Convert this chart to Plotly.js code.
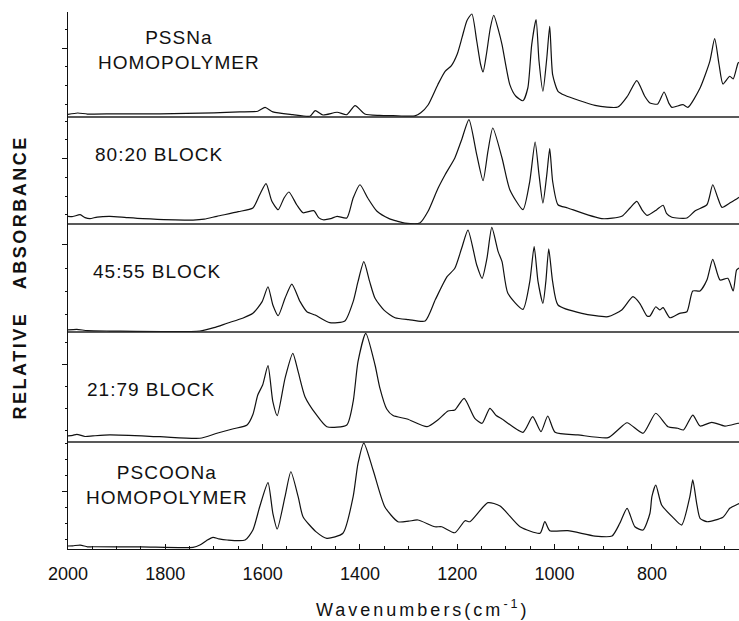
<!DOCTYPE html>
<html>
<head>
<meta charset="utf-8">
<script src="https://cdn.plot.ly/plotly-3.0.1.min.js"></script>
<style>
html,body{margin:0;padding:0;background:#fff;}
#chart{width:739px;height:621px;}
</style>
</head>
<body>
<div id="chart"></div>
<script>
// ---- Data (wavenumbers in cm-1, relative absorbance per panel) ----
const pssnaWn = [
 2000,1980,1960,1900,1811,1700,1647,1610,1595,1579,
 1538,1503,1492,1476,1447,1427,1410,1390,1360,1332,
 1287,1275,1260,1240,1225,1212,1200,1190,1180,1170,
 1160,1152,1147,1140,1132,1125,1115,1108,1092,1080,
 1065,1055,1047,1038,1032,1024,1016,1010,1004,993,
 979,917,870,850,831,815,804,788,775,765,
 759,736,726,701,681,671,662,654,640,633,
 623,621];
const pssnaAbs = [
 .024,.038,.028,.030,.029,.040,.048,.055,.092,.048,
 .022,.007,.060,.019,.045,.022,.108,.029,.015,.012,
 .010,.040,.114,.308,.435,.490,.600,.760,.920,.981,
 .724,.500,.429,.600,.850,.969,.820,.689,.308,.200,
 .155,.276,.689,.927,.533,.245,.562,.864,.403,.245,
 .207,.111,.095,.200,.346,.200,.133,.124,.238,.130,
 .092,.117,.092,.276,.530,.746,.500,.314,.388,.362,
 .514,.520];

const block8020Wn = [
 2000,1990,1975,1965,1955,1940,1914,1880,1846,1743,
 1720,1694,1650,1620,1606,1593,1581,1568,1556,1546,
 1530,1517,1495,1485,1476,1460,1447,1427,1414,1400,
 1384,1365,1340,1322,1308,1277,1260,1240,1225,1205,
 1191,1176,1160,1147,1137,1127,1108,1092,1065,1051,
 1040,1032,1024,1016,1010,1004,993,973,903,862,
 845,831,820,810,790,777,770,759,728,711,
 687,675,665,656,640,623,621];
const block8020Abs = [
 .072,.070,.087,.060,.050,.065,.072,.060,.050,.037,
 .045,.072,.115,.150,.274,.377,.212,.134,.243,.299,
 .180,.105,.125,.060,.040,.050,.072,.056,.243,.367,
 .243,.119,.050,.025,.009,.009,.119,.330,.461,.617,
 .788,.975,.648,.405,.679,.897,.617,.321,.134,.399,
 .766,.461,.196,.461,.704,.399,.180,.150,.050,.072,
 .150,.212,.130,.081,.134,.175,.100,.063,.056,.124,
 .180,.367,.250,.156,.196,.243,.250];

const block4555Wn = [
 2000,1982,1960,1914,1729,1700,1673,1640,1620,1601,
 1589,1579,1568,1554,1540,1523,1509,1492,1462,1431,
 1414,1404,1392,1380,1369,1350,1328,1300,1266,1245,
 1221,1205,1191,1178,1160,1149,1139,1129,1116,1108,
 1096,1065,1051,1042,1034,1024,1018,1012,1004,993,
 944,890,862,839,825,810,804,792,784,777,
 763,743,728,716,701,687,675,660,644,633,
 626,621];
const block4555Abs = [
 .019,.025,.012,.009,.009,.040,.081,.130,.173,.281,
 .419,.250,.151,.312,.444,.281,.188,.157,.086,.102,
 .281,.466,.651,.466,.312,.200,.132,.115,.102,.300,
 .512,.590,.775,.944,.620,.497,.682,.969,.744,.651,
 .358,.210,.466,.790,.466,.266,.466,.769,.466,.250,
 .173,.142,.204,.327,.266,.148,.148,.234,.204,.225,
 .132,.173,.188,.380,.380,.481,.673,.481,.497,.380,
 .574,.593];

const block2179Wn = [
 2000,1990,1982,1965,1949,1914,1811,1729,1694,1660,
 1632,1620,1610,1600,1589,1579,1570,1554,1538,1527,
 1513,1490,1468,1427,1414,1404,1388,1369,1359,1345,
 1332,1303,1262,1240,1219,1205,1186,1164,1149,1133,
 1120,1108,1065,1045,1028,1014,999,952,890,870,
 851,818,792,767,747,735,716,701,677,650,
 623,621];
const block2179Abs = [
 .055,.060,.070,.050,.055,.064,.048,.034,.079,.120,
 .155,.250,.427,.518,.694,.366,.239,.579,.806,.639,
 .412,.250,.139,.155,.366,.730,.988,.700,.490,.300,
 .240,.209,.139,.200,.282,.291,.397,.215,.170,.306,
 .240,.209,.088,.230,.094,.236,.088,.064,.039,.109,
 .175,.079,.261,.139,.125,.109,.245,.145,.179,.145,
 .170,.170];

const pscoonaWn = [
 2000,1990,1975,1960,1949,1850,1743,1729,1715,1702,
 1690,1673,1636,1620,1606,1589,1579,1570,1554,1542,
 1527,1517,1490,1468,1435,1414,1404,1392,1373,1349,
 1322,1300,1281,1246,1232,1205,1184,1174,1137,1112,
 1071,1030,1020,1010,973,917,882,866,851,835,
 818,804,800,792,780,757,739,722,716,708,
 701,687,654,640,623,621];
const pscoonaAbs = [
 .028,.030,.037,.020,.021,.020,.016,.037,.080,.109,
 .095,.084,.084,.178,.395,.620,.334,.187,.489,.722,
 .489,.302,.160,.100,.147,.489,.800,.990,.738,.395,
 .255,.260,.271,.208,.208,.152,.264,.255,.433,.402,
 .208,.147,.255,.171,.171,.121,.121,.240,.380,.208,
 .178,.334,.489,.598,.411,.296,.224,.489,.645,.427,
 .287,.255,.296,.380,.421,.425];

const xTickStart = 2000, xTickStep = 200, xMinorStep = 50;
const panelLabels = ['PSSNa<br>HOMOPOLYMER','80:20 BLOCK','45:55 BLOCK','21:79 BLOCK','PSCOONa<br>HOMOPOLYMER'];

// ---- Layout ----
const FONT = 'Liberation Sans, Arial, Helvetica, sans-serif';
const INK = '#111';
const doms = [[0.8045,1],[0.6052,0.8045],[0.4041,0.6052],[0.1993,0.4041],[0,0.1993]];
const tickSpec = [[0.657,0.89,0.178],[0.610,0.875,0.175],[0.806,1.08,0.216],[0.706,1.01,0.202],[0.536,0.75,0.150]];
const series = [[pssnaWn,pssnaAbs],[block8020Wn,block8020Abs],[block4555Wn,block4555Abs],[block2179Wn,block2179Abs],[pscoonaWn,pscoonaAbs]];
const axNames = ['y5','y4','y3','y2','y'];
const axKeys = ['yaxis5','yaxis4','yaxis3','yaxis2','yaxis'];

const traces = series.map((s,i)=>({
  x: s[0], y: s[1], xaxis:'x', yaxis: axNames[i], type:'scatter', mode:'lines',
  line:{color:INK, width:1.2, shape:'spline', smoothing:0.6},
  hoverinfo:'skip', showlegend:false
}));

const layout = {
  width:739, height:621,
  margin:{l:68, r:0, t:12, b:72},
  paper_bgcolor:'#fff', plot_bgcolor:'#fff',
  font:{family:FONT, color:INK, size:18},
  showlegend:false,
  xaxis:{
    range:[2000,621], anchor:'y', showline:true, linecolor:INK, linewidth:1.2,
    ticks:'inside', ticklen:5, tickwidth:1, tickcolor:INK,
    tickmode:'linear', tick0:xTickStart, dtick:xTickStep,
    minor:{dtick:xMinorStep, ticks:'inside', ticklen:3, tickcolor:INK, showgrid:false},
    tickfont:{family:FONT, size:18, color:INK}, ticklabelstandoff:8,
    showgrid:false, zeroline:false, fixedrange:true
  },
  shapes:[], annotations:[]
};
axKeys.forEach((k,i)=>{
  const t = tickSpec[i];
  layout[k] = {
    domain:doms[i], range:[0,1], anchor:'x', showline:true, linecolor:INK, linewidth:1,
    ticks:'outside', ticklen:5, tickwidth:1, tickcolor:INK,
    tickmode:'linear', tick0:t[0], dtick:t[1],
    minor:{tick0:t[0], dtick:t[2], ticks:'outside', ticklen:2.5, tickcolor:INK, showgrid:false},
    showticklabels:false, showgrid:false, zeroline:false, fixedrange:true
  };
  if (i < 4) {
    layout.shapes.push({type:'line', xref:'paper', yref:'paper', x0:0, x1:1, y0:doms[i][0], y1:doms[i][0],
      line:{color:'#222', width:1.3}});
  }
});

const sp = (t,n)=>'<span style="letter-spacing:'+n+'px">'+t+'</span>';
const labelPos = [
  {x:0.1654, y:0.9292, xanchor:'center'},
  {x:0.0380, y:0.7346, xanchor:'left'},
  {x:0.0350, y:0.5168, xanchor:'left'},
  {x:0.0260, y:0.2961, xanchor:'left'},
  {x:0.1475, y:0.1192, xanchor:'center'}
];
panelLabels.forEach((t,i)=>{
  layout.annotations.push({text: t.split('<br>').map(s=>sp(s,1)).join('<br>'),
    xref:'paper', yref:'paper', x:labelPos[i].x, y:labelPos[i].y,
    xanchor:labelPos[i].xanchor, yanchor:'middle', showarrow:false, align:'center',
    font:{family:FONT, size:19, color:INK}});
});
layout.annotations.push({text: sp('RELATIVE\u00a0\u00a0\u00a0ABSORBANCE',2.5), textangle:-90,
  xref:'paper', yref:'paper', x:-0.0715, y:0.5056, xanchor:'center', yanchor:'middle',
  showarrow:false, font:{family:FONT, size:18, color:INK, weight:'bold'}});
layout.annotations.push({text: sp('Wavenumbers(cm<sup>-1</sup>)',3),
  xref:'paper', yref:'paper', x:0.5298, y:-0.1099, xanchor:'center', yanchor:'middle',
  showarrow:false, font:{family:FONT, size:18, color:INK}});

Plotly.newPlot('chart', traces, layout, {staticPlot:true, displayModeBar:false});
</script>
</body>
</html>
